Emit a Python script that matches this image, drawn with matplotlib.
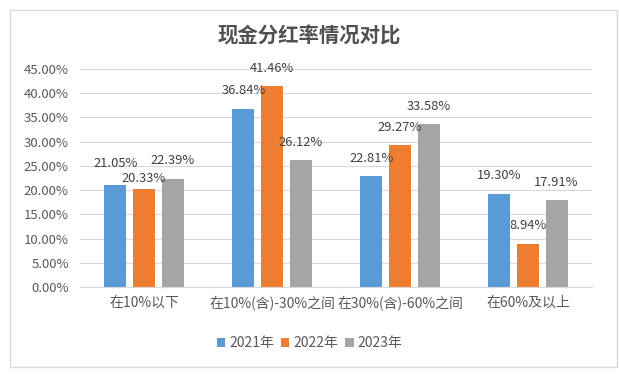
import numpy as np
import matplotlib.pyplot as plt
from matplotlib.patches import Rectangle
from matplotlib.ticker import FuncFormatter, MultipleLocator

plt.rcParams['font.family'] = ['Noto Sans CJK SC', 'DejaVu Sans']

# --- data ---
categories = ['在10%以下', '在10%(含)-30%之间', '在30%(含)-60%之间', '在60%及以上']
years = ['2021年', '2022年', '2023年']
rate_2021 = [21.05, 36.84, 22.81, 19.30]
rate_2022 = [20.33, 41.46, 29.27, 8.94]
rate_2023 = [22.39, 26.12, 33.58, 17.91]
colors = ['#5B9BD5', '#ED7D31', '#A5A5A5']

# label nudges (points) where the original labels were shifted to avoid overlaps
label_nudge = {(0, 0): 2.5, (1, 0): -6}

fig = plt.figure(figsize=(6.19, 3.74), dpi=100)
fig.patches.append(Rectangle((10 / 619, 1 - 367 / 374), 607 / 619, 357 / 374,
                             transform=fig.transFigure, fill=False,
                             edgecolor='#D9D9D9', linewidth=1))

ax = fig.add_axes([80 / 619, 1 - 287 / 374, 512 / 619, 218 / 374])

x = np.arange(len(categories))
width = 0.172
offsets = [-0.223, 0, 0.223]
series = [rate_2021, rate_2022, rate_2023]

for si, (vals, off, col, lab) in enumerate(zip(series, offsets, colors, years)):
    vals = np.array(vals) / 100
    bars = ax.bar(x + off, vals, width, color=col, label=lab, zorder=2)
    for ci, (b, v) in enumerate(zip(bars, vals)):
        dy = 13 + label_nudge.get((si, ci), 0)
        ax.annotate(f'{v * 100:.2f}%', (b.get_x() + b.get_width() / 2, v),
                    xytext=(0, dy), textcoords='offset points',
                    ha='center', va='center', fontsize=9.3, color='#404040')

ax.set_xlim(-0.5, 3.5)
ax.set_ylim(0, 0.45)
ax.yaxis.set_major_locator(MultipleLocator(0.05))
ax.yaxis.set_major_formatter(FuncFormatter(lambda v, p: f'{v * 100:.2f}%'))
ax.grid(axis='y', color='#D9D9D9', linewidth=0.8, zorder=0)
ax.set_axisbelow(True)
for s in ['top', 'right', 'left']:
    ax.spines[s].set_visible(False)
ax.spines['bottom'].set_color('#D9D9D9')
ax.tick_params(axis='both', length=0, colors='#595959', labelsize=9.5)
ax.tick_params(axis='y', pad=8)
ax.set_xticks(x)
ax.set_xticklabels(categories, fontsize=10)
ax.tick_params(axis='x', pad=6)

fig.text(0.5, 1 - 36 / 374, '现金分红率情况对比', ha='center', va='center',
         fontsize=14.7, fontweight='bold', color='#505050')

fig.legend(loc='center', bbox_to_anchor=(0.5, 1 - 343 / 374), ncol=3,
           frameon=False, fontsize=10, handlelength=0.6, handleheight=0.6,
           columnspacing=0.5, handletextpad=0.3, labelcolor='#595959')

fig.savefig('out.png', dpi=100)
